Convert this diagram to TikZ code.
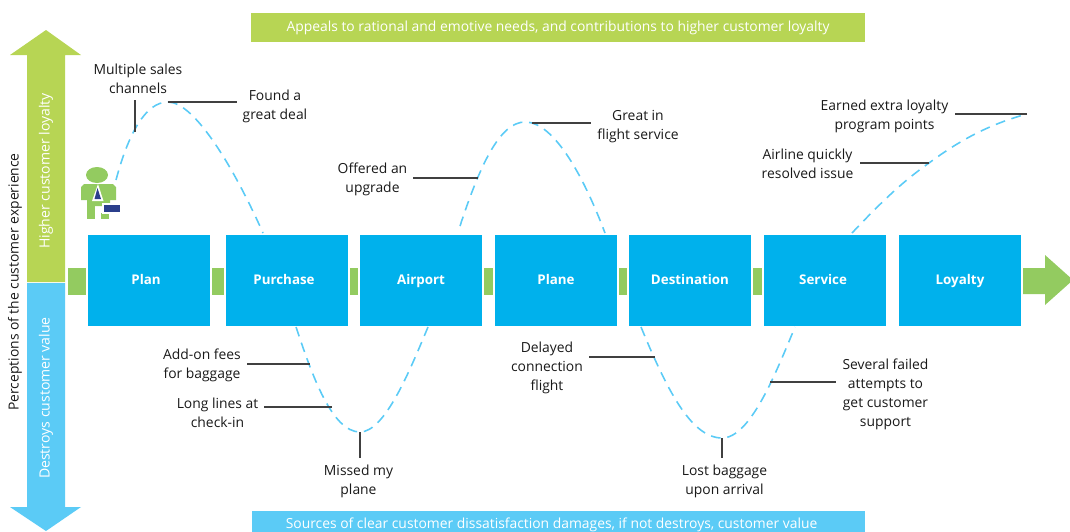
\documentclass[tikz,border=0pt]{standalone}
\usepackage{fontspec}
\setmainfont{Open Sans}
\definecolor{boxblue}{HTML}{00B1EC}
\definecolor{lightblue}{HTML}{5BCBF6}
\definecolor{lime}{HTML}{B7D554}
\definecolor{leaf}{HTML}{93CB60}
\definecolor{navy}{HTML}{2B3F8C}
\begin{document}
\begin{tikzpicture}[
        x=0.02cm,y=-0.02cm,
        stage/.style={rectangle,fill=boxblue,text=white,font=\fontsize{7.6}{10}\selectfont\bfseries,text height=6pt,text depth=2pt,minimum width=2.44cm,minimum height=1.82cm,inner sep=0},
        link/.style={rectangle,fill=leaf,minimum height=0.54cm,inner sep=0},
        banner/.style={rectangle,text=white,font=\fontsize{7.9}{10}\selectfont,minimum height=0.58cm,minimum width=12.28cm,inner sep=0},
        axis/.style={text=white,font=\fontsize{8}{10}\selectfont,rotate=90},
        lbl/.style={align=center,text=black!90,font=\fontsize{7.9}{10.8}\selectfont},
        leader/.style={draw=black!75,line width=0.6pt},
        journey/.style={draw=lightblue,line width=0.9pt,dash pattern=on 5.6pt off 3.8pt}
      ]
      \useasboundingbox[clip] (0,0) rectangle (1070,531);
      % axis
      \fill[lime] (46,30) -- (81,55) -- (65,55) -- (65,282) -- (27,282) -- (27,55) -- (10,55) -- cycle;
      \fill[lightblue] (27,283) -- (65,283) -- (65,507) -- (81,507) -- (46,531) -- (10,507) -- (27,507) -- cycle;
      \node[axis] (higher) at (46,171) {Higher customer loyalty};
      \node[axis] (destroys) at (46,398) {Destroys customer value};
      \node[lbl,rotate=90] (perceptions) at (15,282) {Perceptions of the customer experience};
      % banners
      \node[banner,fill=lime] (appeals) at (558,27.5) {Appeals to rational and emotive needs, and contributions to higher customer loyalty};
      \node[banner,fill=lightblue] (sources) at (558.5,525) {Sources of clear customer dissatisfaction damages, if not destroys, customer value\rule{7.9pt}{0pt}};
      % stages
      \node[stage] (plan) at (149,280.5) {Plan\rule{3.4pt}{0pt}};
      \node[stage] (purchase) at (287,280.5) {Purchase\rule{3.4pt}{0pt}};
      \node[stage] (airport) at (421,280.5) {Airport};
      \node[stage] (plane) at (556,280.5) {Plane};
      \node[stage] (destination) at (690,280.5) {Destination};
      \node[stage] (service) at (825,280.5) {Service\rule{2.2pt}{0pt}};
      \node[stage] (loyalty) at (960,280.5) {Loyalty};
      \node[link,minimum width=0.36cm] (link0) at (77,281) {};
      \node[link,minimum width=0.24cm] (link1) at (218,281) {};
      \node[link,minimum width=0.16cm] (link2) at (354,281) {};
      \node[link,minimum width=0.18cm] (link3) at (488.5,281) {};
      \node[link,minimum width=0.16cm] (link4) at (623,281) {};
      \node[link,minimum width=0.18cm] (link5) at (757.5,281) {};
      \fill[leaf] (1023,268) -- (1045,268) -- (1045,255) -- (1073,280) -- (1045,305) -- (1045,294) -- (1023,294) -- cycle;
      % person
      \fill[leaf] (97,175) ellipse (11 and 8);
      \fill[leaf] (84,184) -- (113,184) -- (116,187) -- (116,200) -- (110,200) -- (110,206) -- (87,206) -- (87,200) -- (81,200) -- (81,187) -- cycle;
      \fill[leaf] (87,205) rectangle (95,219);
      \fill[leaf] (101,213) rectangle (109,219);
      \fill[white] (98,184) -- (103.5,201) -- (92,201) -- cycle;
      \fill[navy] (97.5,188) -- (101,199) -- (94.5,199) -- cycle;
      \filldraw[fill=navy,draw=white,line width=0.6pt] (103,204) rectangle (121,213);
      % curves
      \coordinate (multipt) at (135,132);
      \coordinate (foundpt) at (168,102);
      \coordinate (offerpt) at (478,178);
      \coordinate (greatpt) at (532,123);
      \coordinate (earnedpt) at (1027,114);
      \coordinate (airlinept) at (929,163);
      \coordinate (addonpt) at (310,364);
      \coordinate (longpt) at (332,407);
      \coordinate (missedpt) at (360,432);
      \coordinate (delayedpt) at (655,357);
      \coordinate (lostpt) at (722,438);
      \coordinate (failedpt) at (770,382);
      \draw[journey] (116,180) .. controls (128,135) and (145,102) .. (foundpt) .. controls (195,102) and (235,170) .. (263,233);
      \draw[journey] (296,327) .. controls (312,375) and (332,432) .. (missedpt) .. controls (385,432) and (410,370) .. (428,327);
      \draw[journey] (460,226) .. controls (480,165) and (500,122) .. (525,122) .. controls (555,122) and (585,180) .. (605,233);
      \draw[journey] (641,327) .. controls (665,385) and (690,438) .. (lostpt) .. controls (750,438) and (775,375) .. (795,327);
      \draw[journey] (852,233) .. controls (885,198) and (905,180) .. (airlinept) .. controls (960,140) and (990,124) .. (earnedpt);
      % labels
      \node[lbl] (multi) at (138,79) {Multiple sales\\channels};
      \node[lbl] (found) at (275,106) {Found a\\great deal};
      \node[lbl] (offer) at (372.5,179) {Offered an\\upgrade};
      \node[lbl] (great) at (638,127) {Great in\\flight service};
      \node[lbl] (earned) at (884.5,116) {Earned extra loyalty\\program points};
      \node[lbl] (airline) at (807.5,164) {Airline quickly\\resolved issue};
      \node[lbl] (addon) at (202,365) {Add-on fees\\for baggage};
      \node[lbl] (long) at (217.5,413) {Long lines at\\check-in};
      \node[lbl] (missed) at (358.5,481) {Missed my\\plane};
      \node[lbl] (delayed) at (547,368) {Delayed\\connection\\flight};
      \node[lbl] (lost) at (724.5,481) {Lost baggage\\upon arrival};
      \node[lbl] (failed) at (885.5,394) {Several failed\\attempts to\\get customer\\support};
      % leaders
      \draw[leader] (multipt) -- (multipt |- multi.south);
      \draw[leader] (foundpt) -- (foundpt -| found.west);
      \draw[leader] (offerpt) -- (offerpt -| offer.east);
      \draw[leader] (greatpt) -- (greatpt -| great.west);
      \draw[leader] (earnedpt) -- (earnedpt -| earned.east);
      \draw[leader] (airlinept) -- (airlinept -| airline.east);
      \draw[leader] (addonpt) -- (addonpt -| addon.east);
      \draw[leader] (longpt) -- (longpt -| long.east);
      \draw[leader] (missedpt) -- (missedpt |- missed.north);
      \draw[leader] (delayedpt) -- (delayedpt -| delayed.east);
      \draw[leader] (lostpt) -- (lostpt |- lost.north);
      \draw[leader] (failedpt) -- (failedpt -| failed.west);
    \end{tikzpicture}
\end{document}
